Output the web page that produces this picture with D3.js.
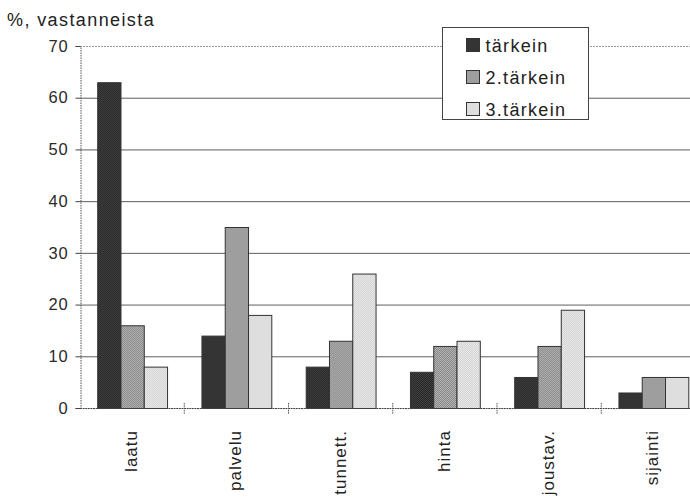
<!DOCTYPE html>
<html>
<head>
<meta charset="utf-8">
<script src="https://cdn.jsdelivr.net/npm/d3@7"></script>
<style>
  html, body { margin: 0; padding: 0; background: #fff; }
  svg { display: block; font-family: "Liberation Sans", Arial, sans-serif; }
</style>
</head>
<body>
<svg id="chart" width="690" height="499"></svg>
<script>
// Categories and series values (% of respondents)
const categories = ["laatu", "palvelu", "tunnett.", "hinta", "joustav.", "sijainti"];
const seriesNames = ["tärkein", "2.tärkein", "3.tärkein"];
const tarkein1 = [63, 14, 8, 7, 6, 3];
const tarkein2 = [16, 35, 13, 12, 12, 6];
const tarkein3 = [8, 18, 26, 13, 19, 6];
const yTicks = [0, 10, 20, 30, 40, 50, 60, 70];
const yTitle = "%, vastanneista";

const seriesValues = [tarkein1, tarkein2, tarkein3];

const svg = d3.select("#chart");
const defs = svg.append("defs");

// Halftone-like fills for the three series
function halftone(id, base, dot, size) {
  const p = defs.append("pattern")
    .attr("id", id).attr("patternUnits", "userSpaceOnUse")
    .attr("width", size * 2).attr("height", size * 2);
  p.append("rect").attr("width", size * 2).attr("height", size * 2).attr("fill", base);
  p.append("rect").attr("x", 0).attr("y", 0).attr("width", size).attr("height", size).attr("fill", dot);
  p.append("rect").attr("x", size).attr("y", size).attr("width", size).attr("height", size).attr("fill", dot);
  return `url(#${id})`;
}
const fills = [
  halftone("fill1", "#262626", "#424242", 1),
  halftone("fill2", "#888888", "#b4b4b4", 1),
  halftone("fill3", "#d2d2d2", "#eaeaea", 1)
];

const margin = { left: 80, top: 46, bottom: 408 };
const plotRight = 705.5;

const x0 = d3.scaleBand()
  .domain(categories)
  .range([margin.left, plotRight])
  .paddingInner(0.33)
  .paddingOuter(0.165);

const x1 = d3.scaleBand()
  .domain(seriesNames)
  .range([0, x0.bandwidth()]);

const y = d3.scaleLinear()
  .domain([0, 70])
  .range([margin.bottom, margin.top]);

// Horizontal grid lines
svg.append("g")
  .selectAll("line")
  .data(yTicks.filter(d => d > 0))
  .join("line")
  .attr("x1", margin.left).attr("x2", plotRight)
  .attr("y1", d => y(d) + 0.5).attr("y2", d => y(d) + 0.5)
  .attr("stroke", d => d === 70 ? "#999" : "#5e5e5e")
  .attr("stroke-width", 1)
  .attr("stroke-dasharray", d => d === 70 ? "2,1" : null);

// Y axis
const yAxis = d3.axisLeft(y).tickValues(yTicks).tickSize(5).tickPadding(7);
const gy = svg.append("g")
  .attr("transform", `translate(${margin.left + 0.5},0)`)
  .call(yAxis);
gy.select(".domain").attr("stroke", "#555").attr("stroke-dasharray", "1.5,1");
gy.selectAll(".tick line").attr("stroke", "#444");
gy.selectAll(".tick text")
  .attr("font-size", 16.5)
  .attr("letter-spacing", "0.8px")
  .attr("fill", "#2a2a2a")
  .attr("font-family", "Liberation Sans, Arial, sans-serif");

// Bars
const groups = svg.append("g")
  .selectAll("g")
  .data(categories)
  .join("g")
  .attr("transform", d => `translate(${x0(d)},0)`);

groups.selectAll("rect")
  .data((c, i) => seriesNames.map((s, k) => ({ s, k, v: seriesValues[k][i] })))
  .join("rect")
  .attr("x", d => x1(d.s) + 0.5)
  .attr("y", d => y(d.v) + 0.5)
  .attr("width", x1.bandwidth())
  .attr("height", d => y(0) - y(d.v))
  .attr("fill", d => fills[d.k])
  .attr("stroke", "#333")
  .attr("stroke-width", 1);

// X axis with category boundary ticks
svg.append("line")
  .attr("x1", margin.left).attr("x2", plotRight)
  .attr("y1", y(0) + 0.5).attr("y2", y(0) + 0.5)
  .attr("stroke", "#444").attr("stroke-width", 1.2)
  .attr("stroke-dasharray", "2,0.6");

const boundaries = categories.slice(1).map(c => x0(c) - x0.step() * x0.paddingInner() / 2);
svg.append("g")
  .selectAll("line")
  .data(boundaries)
  .join("line")
  .attr("x1", d => d).attr("x2", d => d)
  .attr("y1", y(0) - 5).attr("y2", y(0) + 6)
  .attr("stroke", "#555").attr("stroke-dasharray", "1.5,0.8");

// Category labels, rotated
svg.append("g")
  .selectAll("text")
  .data(categories)
  .join("text")
  .attr("transform", d => `translate(${x0(d) + x0.bandwidth() / 2 + 5},430) rotate(-90)`)
  .attr("text-anchor", "end")
  .attr("font-size", 17)
  .attr("letter-spacing", "1px")
  .attr("fill", "#222")
  .text(d => d);

// Axis title
svg.append("text")
  .attr("x", 7).attr("y", 26)
  .attr("font-size", 18)
  .attr("letter-spacing", "1.4px")
  .attr("fill", "#222")
  .text(yTitle);

// Legend
const legend = svg.append("g").attr("transform", "translate(442.5,27.5)");
legend.append("rect")
  .attr("width", 146).attr("height", 92)
  .attr("fill", "#fff").attr("stroke", "#444").attr("stroke-width", 1);
const items = legend.selectAll("g")
  .data(seriesNames)
  .join("g")
  .attr("transform", (d, i) => `translate(24,${11 + i * 32})`);
items.append("rect")
  .attr("width", 13).attr("height", 13)
  .attr("fill", (d, i) => fills[i])
  .attr("stroke", "#333");
items.append("text")
  .attr("x", 19).attr("y", 13)
  .attr("font-size", 18)
  .attr("letter-spacing", "1.3px")
  .attr("fill", "#222")
  .text(d => d);
</script>
</body>
</html>
